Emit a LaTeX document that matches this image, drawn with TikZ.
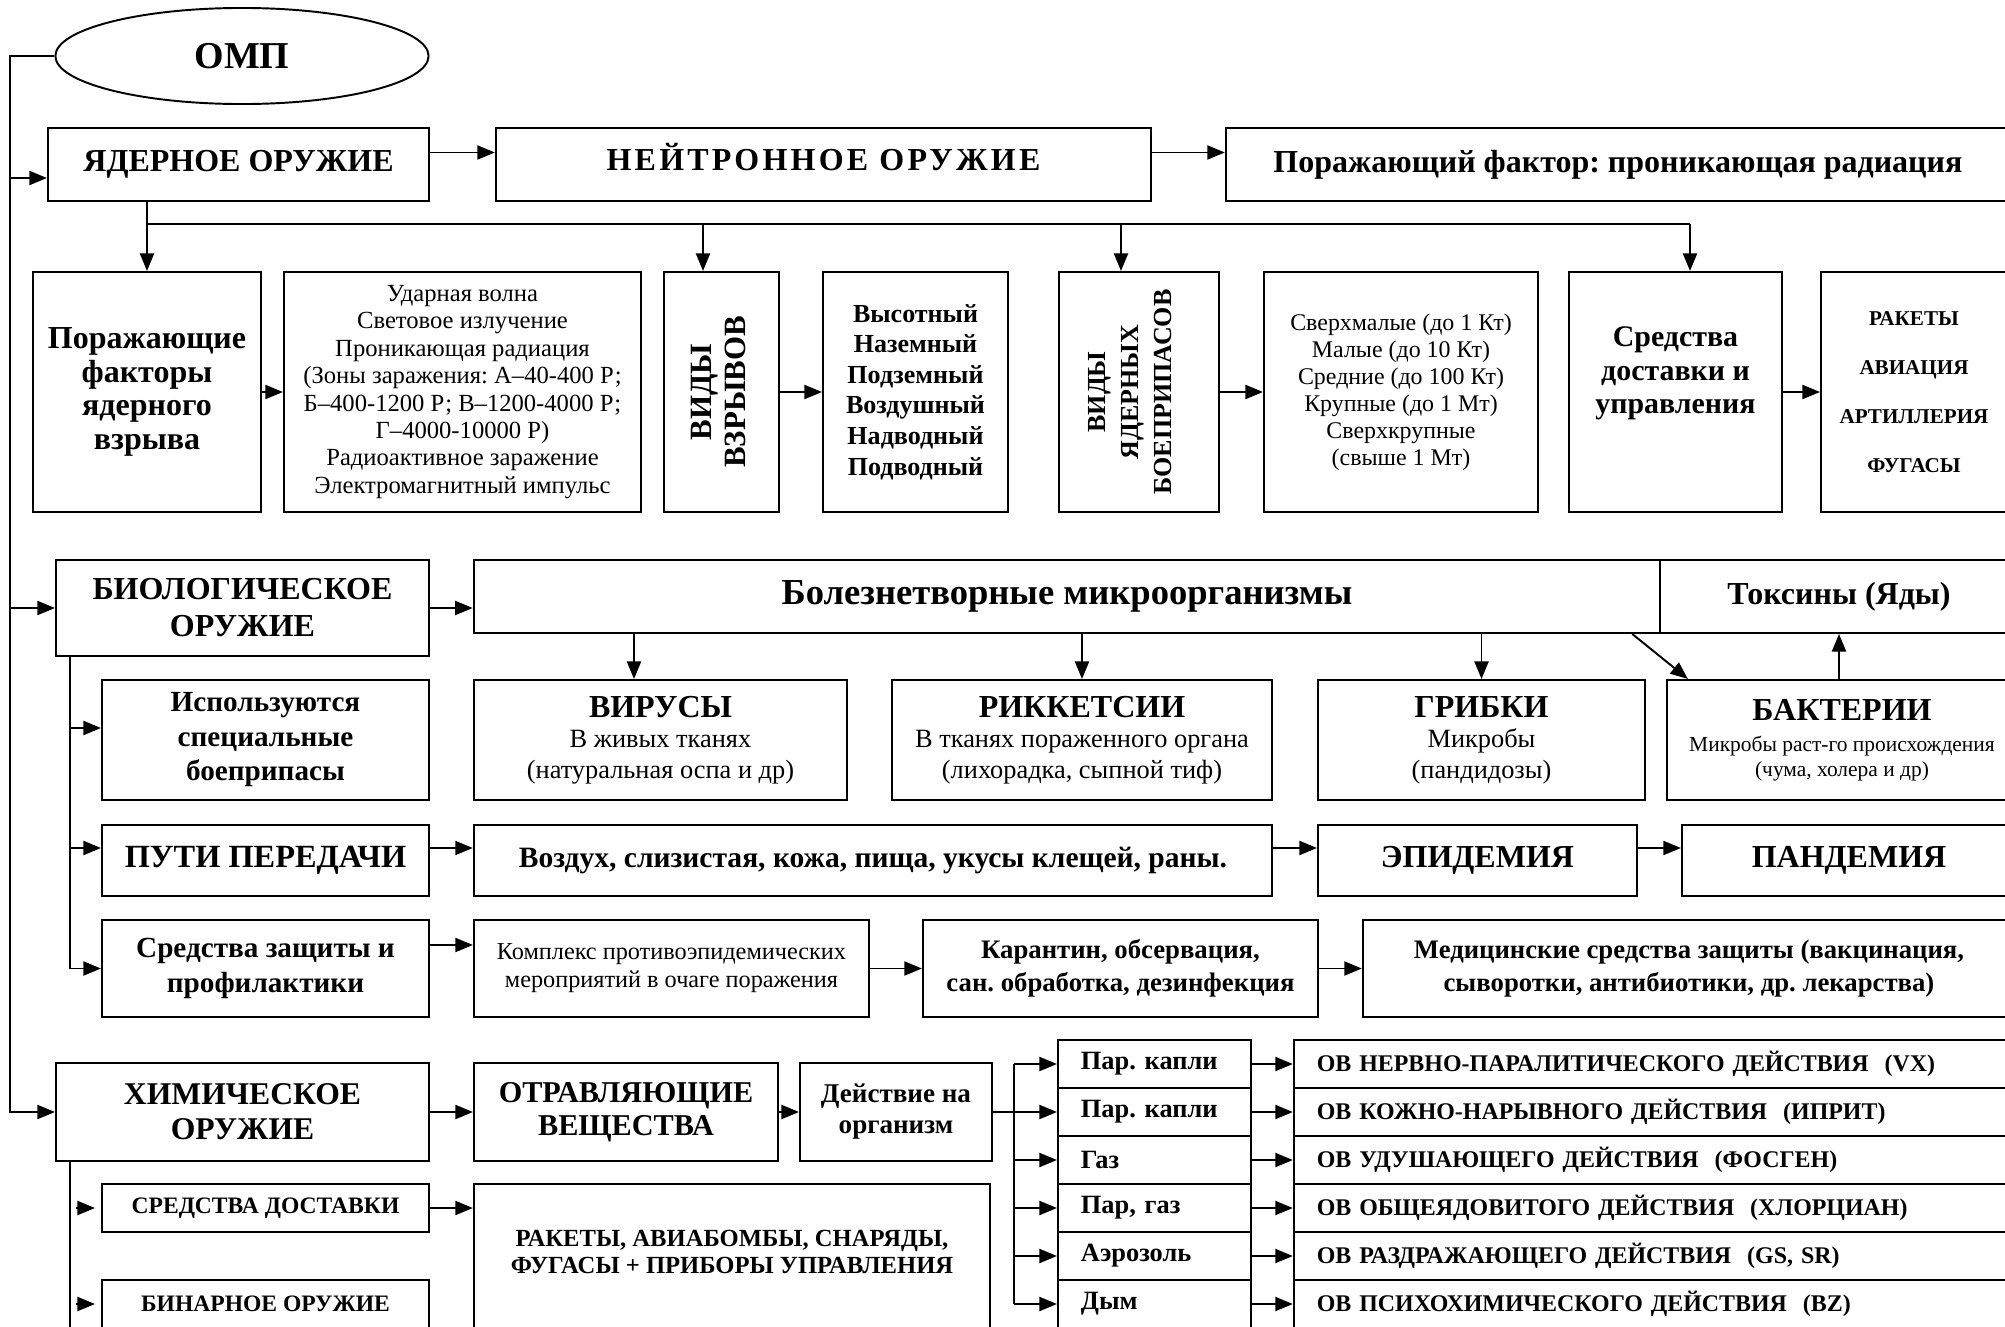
\documentclass[tikz,border=0pt]{standalone}
\usepackage{fontspec}
\setmainfont{Liberation Serif}
\usetikzlibrary{arrows.meta,shapes.geometric,positioning}
\newcommand{\fsz}[2]{\fontsize{#1}{#2}\selectfont}
\frenchspacing

\begin{document}
\begin{tikzpicture}
		[x=0.01cm, y=-0.01cm, line width=0.55pt, inner sep=0pt,
		box/.style	= {rectangle,draw,inner sep=0pt,align=center},
		oval/.style	= {ellipse,draw,inner sep=0pt,minimum width=3.73cm,minimum height=0.96cm},
		paths/.style	= {-{Triangle[length=1.75mm,width=1.4mm]}},
		head/.style	= {font=\bfseries\fsz{9.1}{10.5}},
		agent/.style	= {box,align=left,inner xsep=2.3mm,text width=1.47cm,minimum height=0.48cm,font=\bfseries\fsz{7.5}{8.5}},
		action/.style	= {box,align=left,inner xsep=2.3mm,text width=6.8cm,minimum height=0.48cm,font=\bfseries\fsz{6.8}{8}}]
		
		\useasboundingbox (0,0) rectangle (2005,1327);
		
		% ядерное оружие
		\node at (242,56)		[oval, font=\bfseries\fsz{10.8}{12}]	(omp)	{ОМП};
		\node at (238.5,164.5)	[box, head, minimum width=3.81cm, minimum height=0.73cm]	(yad)	{ЯДЕРНОЕ ОРУЖИЕ};
		\node at (823.5,164.5)	[box, minimum width=6.55cm, minimum height=0.73cm, text height=2.1mm, text depth=1mm, font=\bfseries\fsz{9.1}{10.5}\addfontfeature{LetterSpace=10}]	(neu)	{НЕЙТРОННОЕ ОРУЖИЕ};
		\node at (1618,164.5)	[box, head, minimum width=7.84cm, minimum height=0.73cm]	(pfac)	{Поражающий фактор: проникающая радиация};
		
		\node at (147,392)		[box, minimum width=2.28cm, minimum height=2.4cm, font=\bfseries\fsz{9.1}{9.5}]	(pfy)	{Поражающие\\факторы\\ядерного\\взрыва};
		\node at (462.5,392)	[box, minimum width=3.57cm, minimum height=2.4cm, font=\fsz{7}{7.8}]	(eff)	{Ударная волна\\Световое излучение\\Проникающая радиация\\(Зоны заражения: А–40-400 Р;\\Б–400-1200 Р; В–1200-4000 Р;\\Г–4000-10000 Р)\\Радиоактивное заражение\\Электромагнитный импульс};
		\node at (721.5,392)	[box, minimum width=1.15cm, minimum height=2.4cm, font=\bfseries\fsz{8.8}{9.7}]	(vzr)	{\rotatebox{90}{\begin{tabular}{@{}c@{}}ВИДЫ\\ВЗРЫВОВ\end{tabular}}};
		\node at (915.5,392)	[box, minimum width=1.85cm, minimum height=2.4cm, font=\bfseries\fsz{7.4}{8.7}]	(vtypes)	{Высотный\\Наземный\\Подземный\\Воздушный\\Надводный\\Подводный};
		\node at (1139,392)		[box, minimum width=1.6cm, minimum height=2.4cm, font=\bfseries\fsz{7.4}{9.4}]	(vyb)	{\hspace*{-1.4mm}\rotatebox{90}{\begin{tabular}{@{}c@{}}ВИДЫ\\ЯДЕРНЫХ\\БОЕПРИПАСОВ\end{tabular}}};
		\node at (1401,392)		[box, minimum width=2.74cm, minimum height=2.4cm, font=\fsz{6.8}{7.7}]	(power)	{Сверхмалые (до 1 Кт)\\Малые (до 10 Кт)\\Средние (до 100 Кт)\\Крупные (до 1 Мт)\\Сверхкрупные\\(свыше 1 Мт)};
		\node at (1675.5,392)	[box, minimum width=2.13cm, minimum height=2.4cm, font=\bfseries\fsz{8.5}{9.5}]	(sred)	{Средства\\доставки и\\управления\rule[-4.3mm]{0pt}{0pt}};
		\node at (1914,392)		[box, minimum width=1.86cm, minimum height=2.4cm, font=\bfseries\fsz{6}{14}]	(carr)	{РАКЕТЫ\\АВИАЦИЯ\\АРТИЛЛЕРИЯ\\ФУГАСЫ};
		
		% биологическое оружие
		\node at (242.5,608)	[box, head, minimum width=3.73cm, minimum height=0.96cm]	(bio)	{БИОЛОГИЧЕСКОЕ\\ОРУЖИЕ};
		\node at (1067,596.5)	[box, minimum width=11.86cm, minimum height=0.73cm, font=\bfseries\fsz{10.4}{12}]	(bolez)	{Болезнетворные микроорганизмы};
		\node at (1839,596.5)	[box, head, minimum width=3.58cm, minimum height=0.73cm]	(tox)	{Токсины (Яды)};
		
		\node at (265.5,740)	[box, minimum width=3.27cm, minimum height=1.2cm, font=\bfseries\fsz{8.3}{9.8}]	(isp)	{Используются\\специальные\\боеприпасы};
		\node at (660.5,740)	[box, minimum width=3.73cm, minimum height=1.2cm, font=\fsz{7.5}{8.7}]	(vir)	{{\bfseries\fsz{9.1}{10}ВИРУСЫ}\\В живых тканях\\(натуральная оспа и др)};
		\node at (1082,740)		[box, minimum width=3.8cm, minimum height=1.2cm, font=\fsz{7.5}{8.7}]	(rik)	{{\bfseries\fsz{9.1}{10}РИККЕТСИИ}\\В тканях пораженного органа\\(лихорадка, сыпной тиф)};
		\node at (1481.5,740)	[box, minimum width=3.27cm, minimum height=1.2cm, font=\fsz{7.5}{8.7}]	(grib)	{{\bfseries\fsz{9.1}{10}ГРИБКИ}\\Микробы\\(пандидозы)};
		\node at (1842,740)		[box, minimum width=3.5cm, minimum height=1.2cm, font=\fsz{6.1}{7.1}]	(bakt)	{{\bfseries\fsz{9.1}{10}БАКТЕРИИ}\\[0.6mm]Микробы раст-го происхождения\\(чума, холера и др)};
		
		\node at (265.5,860.5)	[box, minimum width=3.27cm, minimum height=0.71cm, font=\bfseries\fsz{9.2}{10}]	(puti)	{ПУТИ ПЕРЕДАЧИ};
		\node at (873,860.5)	[box, minimum width=7.98cm, minimum height=0.71cm, font=\bfseries\fsz{8.4}{10}]	(vozd)	{Воздух, слизистая, кожа, пища, укусы клещей, раны.};
		\node at (1477.5,860.5)	[box, minimum width=3.19cm, minimum height=0.71cm, font=\bfseries\fsz{9.1}{10}]	(epid)	{ЭПИДЕМИЯ};
		\node at (1849,860.5)	[box, minimum width=3.34cm, minimum height=0.71cm, font=\bfseries\fsz{9.1}{10}]	(pand)	{ПАНДЕМИЯ};
		
		\node at (265.5,968.5)	[box, minimum width=3.27cm, minimum height=0.97cm, font=\bfseries\fsz{8.3}{10}]	(zasch)	{Средства защиты и\\профилактики};
		\node at (671.5,968.5)	[box, minimum width=3.95cm, minimum height=0.97cm, font=\fsz{6.9}{8}]	(kompl)	{Комплекс противоэпидемических\\мероприятий в очаге поражения};
		\node at (1120.5,968.5)	[box, minimum width=3.95cm, minimum height=0.97cm, font=\bfseries\fsz{7.6}{9.4}]	(karant)	{Карантин, обсервация,\\сан. обработка, дезинфекция};
		\node at (1689,968.5)	[box, minimum width=6.52cm, minimum height=0.97cm, font=\bfseries\fsz{7.6}{9.2}]	(med)	{Медицинские средства защиты (вакцинация,\\сыворотки, антибиотики, др. лекарства)};
		
		% химическое оружие
		\node at (242.5,1112)	[box, minimum width=3.73cm, minimum height=0.98cm, font=\bfseries\fsz{9}{10}]	(him)	{ХИМИЧЕСКОЕ\\ОРУЖИЕ};
		\node at (626,1112)		[box, minimum width=3.04cm, minimum height=0.98cm, font=\bfseries\fsz{8.6}{9.4}]	(otr)	{ОТРАВЛЯЮЩИЕ\\ВЕЩЕСТВА};
		\node at (896,1112)		[box, minimum width=1.92cm, minimum height=0.98cm, font=\bfseries\fsz{7.7}{8.8}]	(deist)	{Действие на\\организм};
		\node at (265.5,1208)	[box, minimum width=3.27cm, minimum height=0.48cm, font=\bfseries\fsz{6.7}{8}]	(dost)	{СРЕДСТВА ДОСТАВКИ};
		\node at (265.5,1304)	[box, minimum width=3.27cm, minimum height=0.48cm, font=\bfseries\fsz{6.7}{8}]	(bin)	{БИНАРНОЕ ОРУЖИЕ};
		\node at (732,1264.5)	[box, minimum width=5.16cm, minimum height=1.61cm]	(rakav)	{};
		\node at (732,1251.5)	[align=center, font=\bfseries\fsz{7}{7.7}]	(rakavtxt)	{РАКЕТЫ, АВИАБОМБЫ, СНАРЯДЫ,\\ФУГАСЫ + ПРИБОРЫ УПРАВЛЕНИЯ};
		
		\node at (1154.5,1064)	[agent]	(ag1)	{Пар. капли};
		\node at (1154.5,1112)	[agent]	(ag2)	{Пар. капли};
		\node at (1154.5,1160)	[agent]	(ag3)	{Газ};
		\node at (1154.5,1208)	[agent]	(ag4)	{Пар, газ};
		\node at (1154.5,1256)	[agent]	(ag5)	{Аэрозоль};
		\node at (1154.5,1304)	[agent]	(ag6)	{Дым};
		
		\node at (1657,1064)	[action]	(ov1)	{ОВ НЕРВНО-ПАРАЛИТИЧЕСКОГО ДЕЙСТВИЯ~ (VX)};
		\node at (1657,1112)	[action]	(ov2)	{ОВ КОЖНО-НАРЫВНОГО ДЕЙСТВИЯ~ (ИПРИТ)};
		\node at (1657,1160)	[action]	(ov3)	{ОВ УДУШАЮЩЕГО ДЕЙСТВИЯ~ (ФОСГЕН)};
		\node at (1657,1208)	[action]	(ov4)	{ОВ ОБЩЕЯДОВИТОГО ДЕЙСТВИЯ~ (ХЛОРЦИАН)};
		\node at (1657,1256)	[action]	(ov5)	{ОВ РАЗДРАЖАЮЩЕГО ДЕЙСТВИЯ~ (GS, SR)};
		\node at (1657,1304)	[action]	(ov6)	{ОВ ПСИХОХИМИЧЕСКОГО ДЕЙСТВИЯ~ (BZ)};
		
		% main trunk
		\coordinate (trunk) at (10,1112);
		\coordinate (yadin) at ([yshift=-1.35mm]yad.west);
		\draw [paths] (omp.west) -| (trunk) -- (him.west);
		\draw [paths] (trunk |- yadin) -- (yadin);
		\draw [paths] (trunk |- bio.west) -- (bio.west);
		
		\draw [paths] ([yshift=1.2mm]yad.east) -- ([yshift=1.2mm]neu.west);
		\draw [paths] ([yshift=1.2mm]neu.east) -- ([yshift=1.2mm]pfac.west);
		
		\coordinate (bus) at (0,224);
		\coordinate (vzrin) at ([xshift=-1.85mm]vzr.north);
		\coordinate (vybin) at ([xshift=-1.8mm]vyb.north);
		\coordinate (sredin) at ([xshift=1.45mm]sred.north);
		\draw (bus -| pfy.north) -- (bus -| sredin);
		\draw [paths] (yad.south -| pfy.north) -- (pfy.north);
		\draw [paths] (vzrin |- bus) -- (vzrin);
		\draw [paths] (vybin |- bus) -- (vybin);
		\draw [paths] (sredin |- bus) -- (sredin);
		
		\draw [paths] (pfy) -- (eff);
		\draw [paths] (vzr) -- (vtypes);
		\draw [paths] (vyb) -- (power);
		\draw [paths] (sred) -- (carr);
		
		% bio
		\draw [paths] (bio.east) -- (bio.east -| bolez.west);
		\coordinate (virin) at ([xshift=-2.65mm]vir.north);
		\draw [paths] (virin |- bolez.south) -- (virin);
		\draw [paths] (rik.north |- bolez.south) -- (rik.north);
		\draw [paths] (grib.north |- bolez.south) -- (grib.north);
		\draw [paths] ([xshift=-2.9mm]bolez.south east) -- ([xshift=2.2mm]bakt.north west);
		\draw [paths] (tox.south |- bakt.north) -- (tox.south);
		
		\coordinate (bt) at ([xshift=1.5mm]bio.south west);
		\coordinate (ispin) at ([yshift=1.2mm]isp.west);
		\coordinate (putiin) at ([yshift=1.25mm]puti.west);
		\draw [paths] (bt) |- (zasch.west);
		\draw [paths] (bt |- ispin) -- (ispin);
		\draw [paths] (bt |- putiin) -- (putiin);
		
		\draw [paths] ([yshift=1.25mm]puti.east) -- ([yshift=1.25mm]vozd.west);
		\draw [paths] ([yshift=1.25mm]vozd.east) -- ([yshift=1.25mm]epid.west);
		\draw [paths] ([yshift=1.25mm]epid.east) -- ([yshift=1.25mm]pand.west);
		\draw [paths] ([yshift=2.35mm]zasch.east) -- ([yshift=2.35mm]kompl.west);
		\draw [paths] (kompl) -- (karant);
		\draw [paths] (karant) -- (med);
		
		% chem
		\coordinate (ht) at ([xshift=1.5mm]him.south west);
		\coordinate (hend) at ([yshift=-1mm]bin.south);
		\draw (ht) -- (ht |- hend);
		\draw [paths, shorten <=0.6mm, shorten >=0.6mm] (ht |- dost.west) -- (dost.west);
		\draw [paths, shorten <=0.6mm, shorten >=0.6mm] (ht |- bin.west) -- (bin.west);
		\draw [paths] (him) -- (otr);
		\draw [paths] (otr) -- (deist);
		\draw [paths] (dost.east) -- (dost.east -| rakav.west);
		
		\coordinate (fork) at ([xshift=2.1mm]deist.east);
		\draw (deist.east) -- (fork);
		\draw (fork |- ag1.west) -- (fork |- ag6.west);
		\draw [paths] (fork |- ag1.west) -- (ag1.west);
		\draw [paths] (fork |- ag2.west) -- (ag2.west);
		\draw [paths] (fork |- ag3.west) -- (ag3.west);
		\draw [paths] (fork |- ag4.west) -- (ag4.west);
		\draw [paths] (fork |- ag5.west) -- (ag5.west);
		\draw [paths] (fork |- ag6.west) -- (ag6.west);
		
		\draw [paths] (ag1) -- (ov1);
		\draw [paths] (ag2) -- (ov2);
		\draw [paths] (ag3) -- (ov3);
		\draw [paths] (ag4) -- (ov4);
		\draw [paths] (ag5) -- (ov5);
		\draw [paths] (ag6) -- (ov6);
		
\end{tikzpicture}
\end{document}
